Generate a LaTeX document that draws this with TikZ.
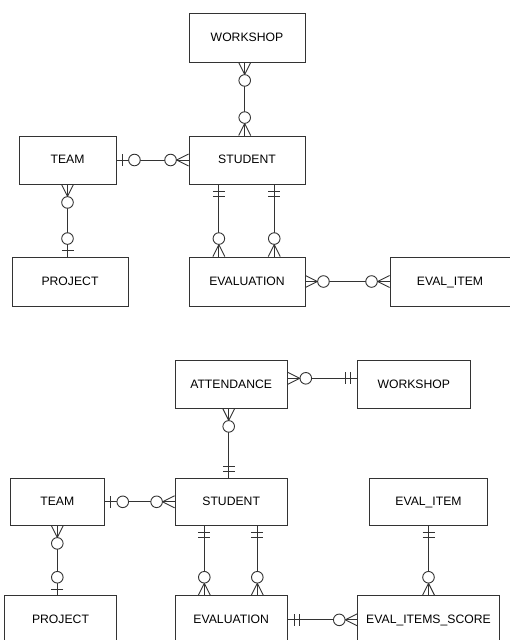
\documentclass[tikz,border=0pt]{standalone}
\usepackage{fontspec}
\setmainfont{Liberation Sans}
\definecolor{linegray}{HTML}{333333}
\tikzset{
  entity/.style={draw=linegray, line width=0.9pt, rectangle, inner sep=0pt,
    font=\fontsize{12.2}{14}\selectfont, text=black,
    text height=8.8pt, text depth=1pt},
  rel/.style={draw=linegray, line width=0.9pt},
  % crow's foot ends, drawn with the box edge at the origin and the line along +x
  zeromany/.pic={\draw[rel] (0,6)--(12,0)--(0,-6);
                 \draw[rel,fill=white] (18,0) circle[radius=5.8pt];},
  zeroone/.pic={\draw[rel] (6,6)--(6,-6);
                \draw[rel,fill=white] (18,0) circle[radius=5.8pt];},
  mandone/.pic={\draw[rel] (7,6)--(7,-6) (12,6)--(12,-6);},
}
\begin{document}
\begin{tikzpicture}[x=1pt,y=-1pt]
\useasboundingbox (0,0) rectangle (509,640);

% ---------- first schema ----------
\node[entity, minimum width=116pt, minimum height=49pt] (ws1)   at (247,37.5)  {WORKSHOP};
\node[entity, minimum width=97pt,  minimum height=48pt] (team1) at (67.5,160)  {TEAM};
\node[entity, minimum width=116pt, minimum height=48pt] (stu1)  at (247,160)   {STUDENT};
\node[entity, minimum width=116pt, minimum height=49pt] (proj1) at (70,281.5)  {PROJECT};
\node[entity, minimum width=116pt, minimum height=49pt] (eval1) at (247,281.5) {EVALUATION};
\node[entity, minimum width=120pt, minimum height=49pt] (ei1)   at (450,281.5) {EVAL\_ITEM};

\draw[rel] ([xshift=-2.3pt]ws1.south) -- ([xshift=-2.3pt]stu1.north);
\draw[rel] (team1.east) -- (stu1.west);
\draw[rel] (team1.south) -- (team1.south |- proj1.north);
\draw[rel] ([xshift=30.3pt]stu1.south west) -- ([xshift=30.3pt]eval1.north west);
\draw[rel] ([xshift=85.7pt]stu1.south west) -- ([xshift=85.7pt]eval1.north west);
\draw[rel] (eval1.east) -- (eval1.east -| ei1.west);

\pic[rotate=-90] at ([xshift=-2.3pt]ws1.south) {zeromany};
\pic[rotate=90]  at ([xshift=-2.3pt]stu1.north) {zeromany};
\pic at (team1.east) {zeroone};
\pic[rotate=180] at (stu1.west) {zeromany};
\pic[rotate=-90] at (team1.south) {zeromany};
\pic[rotate=90]  at (team1.south |- proj1.north) {zeroone};
\pic[rotate=-90] at ([xshift=30.3pt]stu1.south west) {mandone};
\pic[rotate=90]  at ([xshift=30.3pt]eval1.north west) {zeromany};
\pic[rotate=-90] at ([xshift=85.7pt]stu1.south west) {mandone};
\pic[rotate=90]  at ([xshift=85.7pt]eval1.north west) {zeromany};
\pic at (eval1.east) {zeromany};
\pic[rotate=180] at (eval1.east -| ei1.west) {zeromany};

% ---------- second schema ----------
\node[entity, minimum width=112.3pt, minimum height=47.3pt] (att)   at (231.2,384.3) {ATTENDANCE};
\node[entity, minimum width=112.3pt, minimum height=47.3pt] (ws2)   at (413.8,384.3) {WORKSHOP};
\node[entity, minimum width=94pt,    minimum height=46.3pt] (team2) at (57.3,501.8)  {TEAM};
\node[entity, minimum width=112.3pt, minimum height=46.3pt] (stu2)  at (231.2,501.8) {STUDENT};
\node[entity, minimum width=117.6pt, minimum height=46.3pt] (ei2)   at (428.5,501.8) {EVAL\_ITEM};
\node[entity, minimum width=112.3pt, minimum height=48.3pt] (proj2) at (60.5,619.85) {PROJECT};
\node[entity, minimum width=112.3pt, minimum height=48.3pt] (eval2) at (231.2,619.85) {EVALUATION};
\node[entity, minimum width=141.6pt, minimum height=48.3pt] (eis)   at (428.5,619.85) {EVAL\_ITEMS\_SCORE};

\draw[rel] ([yshift=6pt]att.east) -- ([yshift=6pt]ws2.west);
\draw[rel] ([xshift=-2.5pt]att.south) -- ([xshift=-2.5pt]stu2.north);
\draw[rel] (team2.east) -- (stu2.west);
\draw[rel] (team2.south) -- (team2.south |- proj2.north);
\draw[rel] ([xshift=29.7pt]stu2.south west) -- ([xshift=29.7pt]eval2.north west);
\draw[rel] ([xshift=82.7pt]stu2.south west) -- ([xshift=82.7pt]eval2.north west);
\draw[rel] (ei2.south) -- (ei2.south |- eis.north);
\draw[rel] (eval2.east) -- (eis.west);

\pic at ([yshift=6pt]att.east) {zeromany};
\pic[rotate=180] at ([yshift=6pt]ws2.west) {mandone};
\pic[rotate=-90] at ([xshift=-2.5pt]att.south) {zeromany};
\pic[rotate=90]  at ([xshift=-2.5pt]stu2.north) {mandone};
\pic at (team2.east) {zeroone};
\pic[rotate=180] at (stu2.west) {zeromany};
\pic[rotate=-90] at (team2.south) {zeromany};
\pic[rotate=90]  at (team2.south |- proj2.north) {zeroone};
\pic[rotate=-90] at ([xshift=29.7pt]stu2.south west) {mandone};
\pic[rotate=90]  at ([xshift=29.7pt]eval2.north west) {zeromany};
\pic[rotate=-90] at ([xshift=82.7pt]stu2.south west) {mandone};
\pic[rotate=90]  at ([xshift=82.7pt]eval2.north west) {zeromany};
\pic[rotate=-90] at (ei2.south) {mandone};
\pic[rotate=90]  at (ei2.south |- eis.north) {zeromany};
\pic at (eval2.east) {mandone};
\pic[rotate=180] at (eis.west) {zeromany};
\end{tikzpicture}
\end{document}
